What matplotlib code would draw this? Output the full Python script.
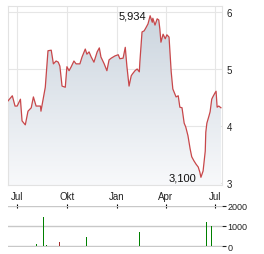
import matplotlib
matplotlib.use('Agg')
import matplotlib.pyplot as plt
import matplotlib.dates as mdates
from matplotlib.patches import Polygon
from matplotlib.colors import LinearSegmentedColormap
import numpy as np
import pandas as pd

plt.rcParams['font.family'] = ['Liberation Sans', 'DejaVu Sans']

price_dates = ['2023-06-14', '2023-06-22', '2023-06-27', '2023-07-01', '2023-07-07', '2023-07-10',
               '2023-07-16', '2023-07-21', '2023-07-27', '2023-07-31', '2023-08-05', '2023-08-13',
               '2023-08-14', '2023-08-18', '2023-08-22', '2023-08-27', '2023-09-02', '2023-09-06',
               '2023-09-11', '2023-09-15', '2023-09-18', '2023-09-22', '2023-09-28', '2023-10-01',
               '2023-10-05', '2023-10-09', '2023-10-14', '2023-10-18', '2023-10-25', '2023-10-29',
               '2023-11-04', '2023-11-07', '2023-11-11', '2023-11-15', '2023-11-20', '2023-11-26',
               '2023-11-30', '2023-12-03', '2023-12-09', '2023-12-14', '2023-12-18', '2023-12-22',
               '2023-12-29', '2024-01-04', '2024-01-07', '2024-01-13', '2024-01-17', '2024-01-20',
               '2024-01-24', '2024-01-28', '2024-01-30', '2024-02-04', '2024-02-08', '2024-02-12',
               '2024-02-13', '2024-02-17', '2024-02-21', '2024-02-24', '2024-02-28', '2024-03-03',
               '2024-03-07', '2024-03-08', '2024-03-12', '2024-03-16', '2024-03-19', '2024-03-21',
               '2024-03-23', '2024-03-27', '2024-03-31', '2024-04-03', '2024-04-07', '2024-04-11',
               '2024-04-14', '2024-04-20', '2024-04-24', '2024-04-27', '2024-05-01', '2024-05-05',
               '2024-05-08', '2024-05-12', '2024-05-16', '2024-05-19', '2024-05-23', '2024-05-27',
               '2024-05-31', '2024-06-03', '2024-06-05', '2024-06-09', '2024-06-13', '2024-06-14',
               '2024-06-16', '2024-06-20', '2024-06-22', '2024-06-25', '2024-06-27', '2024-07-01',
               '2024-07-03', '2024-07-05', '2024-07-08', '2024-07-12']
price_values = [4.44, 4.53, 4.35, 4.35, 4.47, 4.09,
                4.02, 4.26, 4.32, 4.51, 4.35, 4.35,
                4.26, 4.47, 4.68, 5.32, 5.33, 5.09,
                5.14, 5.12, 5.05, 4.70, 4.68, 5.04,
                4.97, 5.04, 5.14, 5.09, 5.09, 5.21,
                5.35, 5.26, 5.30, 5.21, 5.12, 5.30,
                5.37, 5.21, 5.09, 4.97, 5.16, 5.19,
                5.23, 5.25, 5.18, 5.19, 5.38, 5.05,
                4.70, 4.88, 4.91, 4.97, 5.00, 4.95,
                5.12, 5.65, 5.67, 5.72, 5.79, 5.934,
                5.82, 5.89, 5.77, 5.88, 5.86, 5.70,
                5.47, 5.61, 5.53, 5.60, 5.56, 4.95,
                4.65, 4.51, 4.53, 4.33, 4.32, 4.05,
                3.98, 3.83, 3.60, 3.46, 3.39, 3.33,
                3.28, 3.19, 3.10, 3.21, 3.56, 3.89,
                4.05, 4.18, 4.25, 4.47, 4.51, 4.58,
                4.61, 4.33, 4.35, 4.32]

vol_dates = ['2023-08-05', '2023-08-18', '2023-08-24', '2023-09-17', '2023-11-07', '2024-01-11',
             '2024-02-13', '2024-06-16', '2024-06-18', '2024-06-24', '2024-06-25', '2024-07-01']
vol_values = [100, 1450, 50, 200, 450, 200, 700, 1200, 250, 200, 1000, 700]
vol_dir = ['up', 'up', 'up', 'down', 'up', 'up', 'up', 'up', 'up', 'up', 'up', 'down']

month_ticks = ['2023-07-01', '2023-10-01', '2024-01-01', '2024-04-01', '2024-07-01']
month_labels = ['Jul', 'Okt', 'Jan', 'Apr', 'Jul']
price_ticks = [3, 4, 5, 6]
vol_ticks = [0, 1000, 2000]
x_range = ['2023-06-14', '2024-07-14']

W, H = 264, 255
fig = plt.figure(figsize=(W / 100, H / 100), dpi=100)


def frac(l, t, r, b):
    return [l / W, 1 - b / H, (r - l) / W, (b - t) / H]


ax = fig.add_axes(frac(8, 7, 222, 186))
axv = fig.add_axes(frac(8, 206.5, 222, 247.5))

d = mdates.date2num(pd.to_datetime(price_dates))
v = np.array(price_values)
x0, x1 = mdates.date2num(pd.to_datetime(x_range))
ylo, yhi = 2.965, 6.105

# gradient fill under the line
cmap = LinearSegmentedColormap.from_list('g', ['#f8f9fb', '#c9d3dd'])
grad = np.linspace(1, 0, 256).reshape(-1, 1)
im = ax.imshow(grad, extent=[x0, x1, ylo, yhi], aspect='auto', cmap=cmap,
               vmin=0, vmax=1, zorder=1, interpolation='bilinear')
verts = list(zip(d, v)) + [(d[-1], ylo), (d[0], ylo)]
poly = Polygon(verts, closed=True, facecolor='none', edgecolor='none', transform=ax.transData)
ax.add_patch(poly)
im.set_clip_path(poly)

ax.plot(d, v, color='#c8474a', lw=0.9, zorder=3)

ax.set_xlim(x0, x1)
ax.set_ylim(ylo, yhi)

mt = mdates.date2num(pd.to_datetime(month_ticks))
ax.set_xticks(mt)
ax.set_xticklabels(month_labels)
ax.set_yticks(price_ticks)
ax.set_yticklabels([str(t) for t in price_ticks])
ax.grid(True, color='#e6e6e6', lw=0.8, zorder=0)
ax.set_axisbelow(True)
ax.tick_params(axis='x', length=0, pad=4, labelsize=7, colors='#222222')
ax.tick_params(axis='y', left=False, labelleft=False, right=False, labelright=True,
               length=0, pad=3.5, labelsize=7, colors='#222222')
for s in ax.spines.values():
    s.set_color('#e2e2e2')
    s.set_linewidth(0.8)

# annotations for max and min
imax = int(np.argmax(v))
imin = int(np.argmin(v))
for i in (imax, imin):
    ax.annotate(f"{v[i]:.3f}".replace('.', ','), xy=(d[i], v[i]), xytext=(-3, 0),
                textcoords='offset points', ha='right', va='center', fontsize=8,
                color='#111111', zorder=5)

# volume
vd = mdates.date2num(pd.to_datetime(vol_dates))
cols = ['#008000' if s == 'up' else '#a52a2a' for s in vol_dir]
axv.bar(vd, vol_values, width=1.6, color=cols, linewidth=0, zorder=3)
axv.set_xlim(x0, x1)
axv.set_ylim(-20, 2020)
axv.set_yticks(vol_ticks)
axv.set_yticklabels([str(t) for t in vol_ticks])
axv.set_xticks(mt)
axv.xaxis.set_ticks_position('top')
axv.tick_params(axis='x', top=True, bottom=False, labeltop=False, labelbottom=False,
                direction='inout', length=3, width=0.8, colors='black')
axv.tick_params(axis='y', left=False, labelleft=False, right=True, labelright=True,
                length=3, width=0.8, pad=1, labelsize=6.5, colors='#222222')
axv.grid(True, axis='y', color='#c8c8c8', lw=1, zorder=0)
axv.set_axisbelow(True)
for s in axv.spines.values():
    s.set_visible(False)

fig.savefig('out.png', dpi=100)
